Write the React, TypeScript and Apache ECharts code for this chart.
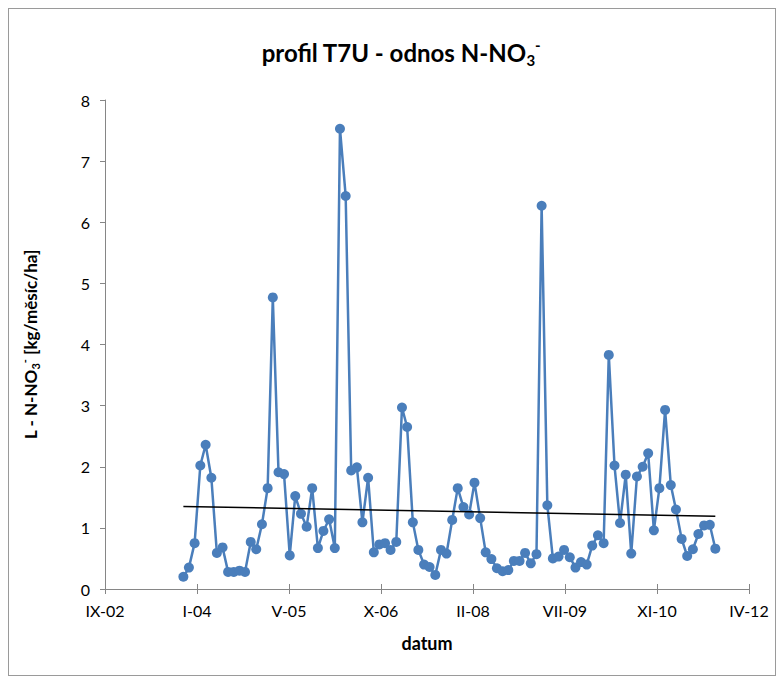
import React, { useEffect, useRef } from "react";
import * as echarts from "echarts";

// x-axis ticks (Excel date serials) and their labels
const tickLabels = ["IX-02", "I-04", "V-05", "X-06", "II-08", "VII-09", "XI-10", "IV-12"];
const axisMin = 37500;
const axisStep = 500;
const axisMax = 41000;

// monthly values from XI-2003
const startYear = 2003;
const startMonth = 10; // November (0-based)
const values = [
  0.2, 0.35, 0.75, 2.02, 2.36, 1.82, 0.59, 0.68, 0.28, 0.28, 0.3, 0.28,
  0.77, 0.65, 1.06, 1.65, 4.77, 1.91, 1.88, 0.55, 1.52, 1.23, 1.02, 1.65,
  0.67, 0.95, 1.14, 0.67, 7.53, 6.43, 1.94, 1.99, 1.09, 1.82, 0.6, 0.73,
  0.75, 0.64, 0.77, 2.97, 2.65, 1.09, 0.64, 0.4, 0.36, 0.23, 0.64, 0.58,
  1.13, 1.65, 1.34, 1.22, 1.74, 1.16, 0.6, 0.49, 0.34, 0.29, 0.31, 0.46,
  0.46, 0.59, 0.42, 0.57, 6.27, 1.37, 0.5, 0.53, 0.64, 0.52, 0.35, 0.44,
  0.4, 0.71, 0.88, 0.75, 3.83, 2.02, 1.08, 1.87, 0.58, 1.84, 2.0, 2.22,
  0.96, 1.65, 2.93, 1.7, 1.3, 0.82, 0.54, 0.65, 0.9, 1.04, 1.05, 0.66,
];
// linear trend at first and last date
const trendValues = [1.35, 1.19];

const excelSerial = (y: number, m: number, d: number) =>
  Date.UTC(y, m, d) / 86400000 + 25569;

export default function App() {
  const ref = useRef<HTMLDivElement>(null);
  useEffect(() => {
    if (!ref.current) return;
    const chart = echarts.init(ref.current, null, { renderer: "svg" });
    const data = values.map((v, i) => [excelSerial(startYear, startMonth + i, 1), v]);
    const x0 = data[0][0];
    const x1 = data[data.length - 1][0];
    const font = "Lato, 'Open Sans', sans-serif";
    const labelFmt = (v: number) => {
      const idx = Math.round((v - axisMin) / axisStep);
      return tickLabels[idx] ?? "";
    };
    chart.setOption({
      animation: false,
      backgroundColor: "#ffffff",
      title: {
        text: "{m|profil T7U - odnos N-NO}{s|3}{p|-}",
        left: 387,
        textAlign: "center",
        top: 23,
        textStyle: {
          rich: {
            m: { fontFamily: font, fontSize: 24, fontWeight: "bold", color: "#000", lineHeight: 30 },
            s: { fontFamily: font, fontSize: 15, fontWeight: "bold", color: "#000", lineHeight: 15, verticalAlign: "bottom" },
            p: { fontFamily: font, fontSize: 15, fontWeight: "bold", color: "#000", lineHeight: 15, verticalAlign: "top" },
          },
        },
      },
      grid: { left: 96, right: 26, top: 91, bottom: 86, containLabel: false },
      xAxis: [
        {
          type: "value",
          min: axisMin,
          max: axisMax,
          interval: axisStep,
          name: "datum",
          nameLocation: "middle",
          nameGap: 45,
          nameTextStyle: { fontFamily: font, fontSize: 18, fontWeight: "bold", color: "#000" },
          splitLine: { show: false },
          axisLine: { show: true, lineStyle: { color: "#868686", width: 1 } },
          axisTick: { show: true, length: 5, lineStyle: { color: "#868686" } },
          axisLabel: { formatter: labelFmt, fontFamily: font, fontSize: 16, color: "#000", margin: 13 },
        },
        {
          type: "value",
          min: axisMin,
          max: axisMax,
          interval: axisStep,
          position: "bottom",
          splitLine: { show: false },
          axisLine: { show: false },
          axisTick: { show: true, inside: true, length: 5, lineStyle: { color: "#868686" } },
          axisLabel: { show: false },
        },
      ],
      yAxis: {
        type: "value",
        min: 0,
        max: 8,
        interval: 1,
        name: "{m|L - N-NO}{s|3}{p|-}{m| [kg/měsíc/ha]}",
        nameLocation: "middle",
        nameRotate: 90,
        nameGap: 64,
        nameTextStyle: {
          rich: {
            m: { fontFamily: font, fontSize: 17, fontWeight: "bold", color: "#000", lineHeight: 22 },
            s: { fontFamily: font, fontSize: 11, fontWeight: "bold", color: "#000", lineHeight: 11, verticalAlign: "bottom" },
            p: { fontFamily: font, fontSize: 11, fontWeight: "bold", color: "#000", lineHeight: 11, verticalAlign: "top" },
          },
        },
        splitLine: { show: false },
        axisLine: { show: true, lineStyle: { color: "#868686", width: 1 } },
        axisTick: { show: true, length: 5, lineStyle: { color: "#868686" } },
        axisLabel: { fontFamily: font, fontSize: 16, color: "#000", margin: 15 },
      },
      series: [
        {
          type: "line",
          data,
          symbol: "circle",
          symbolSize: 10,
          lineStyle: { color: "#4a7ebb", width: 2.5 },
          itemStyle: { color: "#4a7ebb" },
          z: 2,
        },
        {
          type: "line",
          data: [
            [x0, trendValues[0]],
            [x1, trendValues[1]],
          ],
          symbol: "none",
          lineStyle: { color: "#000", width: 1.5 },
          z: 3,
        },
      ],
    });
    return () => chart.dispose();
  }, []);
  return (
    <div
      ref={ref}
      style={{ width: 768, height: 668, border: "1px solid #9a9a9a", boxSizing: "border-box" }}
    />
  );
}
